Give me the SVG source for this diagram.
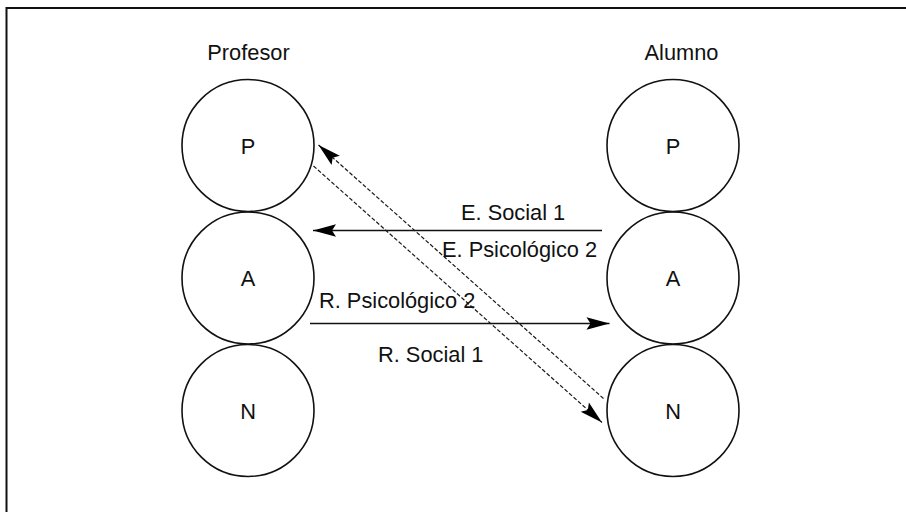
<svg xmlns="http://www.w3.org/2000/svg" width="906" height="512" viewBox="0 0 906 512">
  <defs>
    <marker id="head" markerUnits="userSpaceOnUse" markerWidth="26" markerHeight="14" viewBox="0 0 24 14" refX="23" refY="7" orient="auto">
      <path d="M0,0.8 L23,7 L0,13.2 L4,7 Z" fill="#000"/>
    </marker>
    <style>
      .frame { fill: none; stroke: #111; stroke-width: 2; }
      .node circle { fill: none; stroke: #111; stroke-width: 1.6; }
      .node text, .lbl, .title { font-family: "Liberation Sans", Arial, sans-serif; font-size: 21.8px; fill: #111; }
      .node text, .title { text-anchor: middle; }
      .solid { stroke: #111; stroke-width: 1.5; fill: none; }
      .dash { stroke: #1a1a1a; stroke-width: 1.2; stroke-dasharray: 4 2; fill: none; }
    </style>
  </defs>

  <rect width="906" height="512" fill="#fff"/>

  <!-- outer frame (open to the right and bottom) -->
  <path class="frame" d="M906,8 H6.5 V512"/>

  <!-- column headings -->
  <text class="title" x="248.5" y="60">Profesor</text>
  <text class="title" x="681.5" y="60">Alumno</text>

  <!-- Profesor column -->
  <g id="prof-P" class="node"><circle cx="248" cy="145.5" r="66"/><text x="248" y="153.5">P</text></g>
  <g id="prof-A" class="node"><circle cx="248" cy="278" r="66"/><text x="248" y="286">A</text></g>
  <g id="prof-N" class="node"><circle cx="248" cy="410.5" r="66"/><text x="248" y="418.5">N</text></g>

  <!-- Alumno column -->
  <g id="alum-P" class="node"><circle cx="673" cy="145.5" r="66"/><text x="673" y="153.5">P</text></g>
  <g id="alum-A" class="node"><circle cx="673" cy="278" r="66"/><text x="673" y="286">A</text></g>
  <g id="alum-N" class="node"><circle cx="673" cy="410.5" r="66"/><text x="673" y="418.5">N</text></g>

  <!-- connectors -->
  <g id="connectors">
    <line class="solid" x1="602" y1="230.5" x2="313" y2="230.5" marker-end="url(#head)"/>
    <line class="solid" x1="310" y1="323.5" x2="609.5" y2="323.5" marker-end="url(#head)"/>
    <line class="dash" x1="603.5" y1="398.5" x2="318.5" y2="145" marker-end="url(#head)"/>
    <line class="dash" x1="313.5" y1="166" x2="602" y2="422.5" marker-end="url(#head)"/>
  </g>

  <!-- connector labels -->
  <text class="lbl" x="461" y="220">E. Social 1</text>
  <text class="lbl" x="442" y="257">E. Psicológico 2</text>
  <text class="lbl" x="319" y="307.5">R. Psicológico 2</text>
  <text class="lbl" x="378" y="362">R. Social 1</text>
</svg>
